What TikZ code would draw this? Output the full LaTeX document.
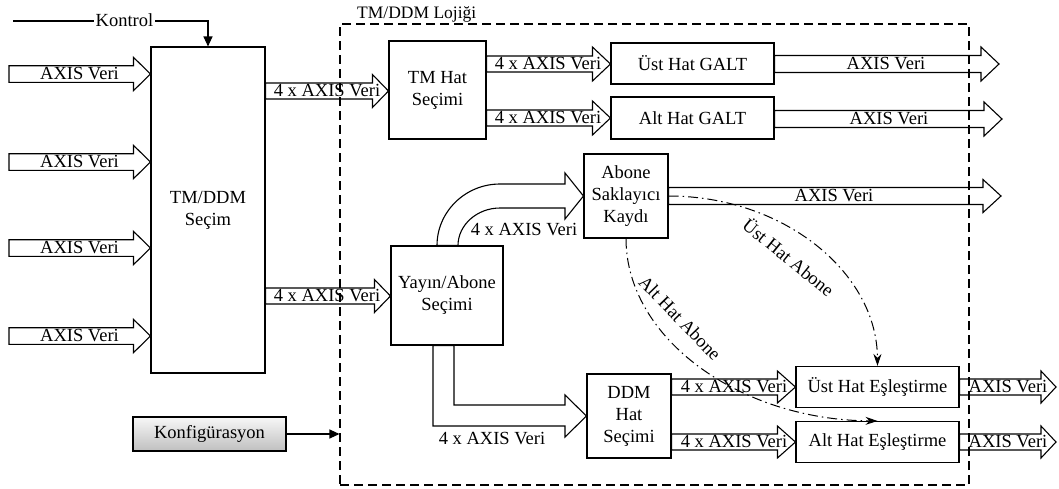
\documentclass[tikz,border=0pt]{standalone}
\usepackage{fontspec}
\setmainfont{Liberation Serif}
\usetikzlibrary{calc,arrows.meta}

\tikzset{
  every node/.style={font=\fontsize{18.5}{22}\selectfont},
  box/.style={draw, line width=1.1pt, fill=white, inner sep=0pt, align=center},
  fat/.style={draw, line width=1.1pt, fill=white, line join=miter},
  lbl/.style={inner sep=0pt},
  logicframe/.style={draw, line width=1.1pt, dash pattern=on 9pt off 5pt, inner sep=0pt},
  ctrl/.style={line width=1.1pt, -{Triangle[length=10pt,width=9pt]}},
  subline/.style={line width=1pt, dash pattern=on 10pt off 4pt on 1.5pt off 4pt,
                  -{Stealth[length=12pt,width=8pt]}}
}

% Block arrow: #1 start point, #2 tip, #3 half shaft width, #4 half head width, #5 head length
\newcommand\fatarrow[5]{%
  \draw[fat] let \p1=#1, \p2=#2 in
    (\x1,\y2+#3pt) -- (\x2-#5pt,\y2+#3pt) -- (\x2-#5pt,\y2+#4pt) -- (\x2,\y2)
    -- (\x2-#5pt,\y2-#4pt) -- (\x2-#5pt,\y2-#3pt) -- (\x1,\y2-#3pt) -- cycle;}

\begin{document}
\begin{tikzpicture}[x=1pt,y=-1pt]
\useasboundingbox (0,0) rectangle (1059,488);

% ---------- blocks ----------
\node[box, minimum width=114pt, minimum height=326pt] (sel) at (208,210) {TM/DDM\\Seçim};
\node[box, minimum width=97pt, minimum height=98pt] (tmh) at (437.5,90) {TM Hat\\Seçimi};
\node[box, minimum width=163pt, minimum height=41pt] (ug) at (692.5,63.5) {Üst Hat GALT};
\node[box, minimum width=163pt, minimum height=42pt] (ag) at (692.5,118) {Alt Hat GALT};
\node[box, minimum width=84pt, minimum height=84pt] (abo) at (626,196) {Abone\\Saklayıcı\\Kaydı};
\node[box, minimum width=112pt, minimum height=99pt] (yay) at (447,295.5) {Yayın/Abone\\Seçimi};
\node[box, minimum width=84pt, minimum height=84pt] (ddm) at (629,416) {DDM\\Hat\\Seçimi};
\node[box, minimum width=163pt, minimum height=41pt] (ue) at (877.5,387) {Üst Hat Eşleştirme};
\node[box, minimum width=163pt, minimum height=41pt] (ae) at (877.5,442) {Alt Hat Eşleştirme};
\node[box, top color=black!3, bottom color=black!25, minimum width=153pt, minimum height=34pt]
  (konf) at (209.5,434) {Konfigürasyon};

% ---------- control input ----------
\coordinate (kin) at (13,21);
\draw[ctrl] (kin) -| (sel.north);
\node[lbl, fill=white, inner xsep=1.5pt] (kon) at (124.5,20.5) {Kontrol};

% ---------- data inputs ----------
\foreach \yy [count=\i] in {74,162,248,336} {
  \coordinate (in\i) at (9,\yy);
  \fatarrow{(in\i)}{(sel.west |- in\i)}{8.3}{16.7}{17}
  \node[lbl] (inl\i) at (79.5,\yy) {AXIS Veri};
}

% ---------- selection outputs ----------
\fatarrow{(sel.east |- 0,91)}{(tmh.west |- 0,91)}{8}{16.5}{16}
\node[lbl] (s1) at (327,91) {4 x AXIS Veri};
\fatarrow{(sel.east |- 0,296)}{(yay.west |- 0,296)}{8}{16.5}{16}
\node[lbl] (s2) at (327,296) {4 x AXIS Veri};

% ---------- TM path ----------
\fatarrow{(tmh.east |- 0,64)}{(ug.west |- 0,64)}{8}{17}{18}
\node[lbl] (t1) at (548,64) {4 x AXIS Veri};
\fatarrow{(tmh.east |- 0,118)}{(ag.west |- 0,118)}{8}{17}{18}
\node[lbl] (t2) at (548,118) {4 x AXIS Veri};

\coordinate (o1) at (999,64);
\coordinate (o2) at (1002,119);
\coordinate (o3) at (1001,196);
\fatarrow{(ug.east |- o1)}{(o1)}{8.5}{17}{18}
\node[lbl] (g1) at (886,64) {AXIS Veri};
\fatarrow{(ag.east |- o2)}{(o2)}{8.5}{17}{18}
\node[lbl] (g2) at (889,119) {AXIS Veri};
\fatarrow{(abo.east |- o3)}{(o3)}{8.5}{16.5}{18}
\node[lbl] (g3) at (834,196) {AXIS Veri};

% ---------- publish / subscribe split ----------
\draw[fat] (yay.north -| 437,0) .. controls (437,212) and (465,184) .. (500,184)
  -- (565,184) -- (565,173) -- (abo.west) -- (565,219) -- (565,208) -- (500,208)
  .. controls (477,208) and (458,225) .. (yay.north -| 458,0) -- cycle;
\node[lbl] (p1) at (524,230) {4 x AXIS Veri};

\draw[fat] (yay.south -| 433,0) -- (433,426) -- (565,426) -- (565,437) -- (ddm.west)
  -- (565,395) -- (565,405) -- (454,405) -- (yay.south -| 454,0) -- cycle;
\node[lbl] (p2) at (492,439) {4 x AXIS Veri};

% ---------- DDM path ----------
\fatarrow{(ddm.east |- ue.west)}{(ue.west)}{8}{16}{18}
\node[lbl] (d1) at (734,387) {4 x AXIS Veri};
\fatarrow{(ddm.east |- ae.west)}{(ae.west)}{8}{16}{18}
\node[lbl] (d2) at (734,442) {4 x AXIS Veri};

\coordinate (o4) at (1056,387);
\coordinate (o5) at (1056,442);
\fatarrow{(ue.east)}{(o4)}{8}{16}{15}
\node[lbl] (e1) at (1008,387) {AXIS Veri};
\fatarrow{(ae.east)}{(o5)}{8}{16}{15}
\node[lbl] (e2) at (1008,442) {AXIS Veri};

% ---------- logic frame ----------
\node[logicframe, minimum width=629pt, minimum height=461pt] (logic) at (654.5,254.5) {};
\node[lbl, anchor=base west, font=\fontsize{17.5}{20}\selectfont] (logt) at (357,18) {TM/DDM Lojiği};
\draw[ctrl] (konf.east) -- (konf.east -| logic.west);

% ---------- subscriber links ----------
\draw[subline] (abo.east) .. controls (783,196) and (877,272) .. (ue.north);
\draw[subline] (abo.south) .. controls (626,338) and (739,420) .. (ae.north);
\node[lbl, rotate=-39] (ua) at (789,257) {Üst Hat Abone};
\node[lbl, rotate=-46] (aa) at (680,318) {Alt Hat Abone};
\end{tikzpicture}
\end{document}
